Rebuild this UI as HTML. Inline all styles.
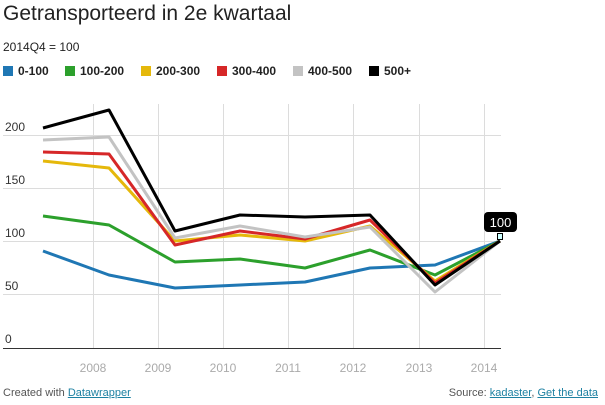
<!DOCTYPE html>
<html><head><meta charset="utf-8"><style>
body{margin:0;width:605px;height:405px;background:#fff;font-family:"Liberation Sans",Arial,sans-serif;overflow:hidden;position:relative}
.t{position:absolute;left:3px;top:2px;font-size:21px;color:#222}
.s{position:absolute;left:3px;top:40px;font-size:12px;color:#222}
.lg{position:absolute;top:64px;font-size:12px;font-weight:bold;color:#222}
.lg span{display:inline-block;width:10px;height:10px;vertical-align:-1px;margin-right:5px}
.f{position:absolute;top:387px;font-size:11px;color:#555}
.f a{color:#1d81a2;text-decoration:underline}
</style></head><body>
<div class="t">Getransporteerd in 2e kwartaal</div>
<div class="s">2014Q4 = 100</div>
<div class="lg" style="left:3px"><span style="background:#1f77b4"></span>0-100</div>
<div class="lg" style="left:65px"><span style="background:#2ca02c"></span>100-200</div>
<div class="lg" style="left:141px"><span style="background:#e5b80b"></span>200-300</div>
<div class="lg" style="left:217px"><span style="background:#d62728"></span>300-400</div>
<div class="lg" style="left:293px"><span style="background:#c3c3c3"></span>400-500</div>
<div class="lg" style="left:369px"><span style="background:#000"></span>500+</div>
<svg width="605" height="405" style="position:absolute;left:0;top:0" font-family="Liberation Sans,Arial,sans-serif">
<g stroke="#dcdcdc" stroke-width="1">
<line x1="3" x2="501" y1="135.5" y2="135.5"/><line x1="3" x2="501" y1="188.5" y2="188.5"/><line x1="3" x2="501" y1="241.5" y2="241.5"/><line x1="3" x2="501" y1="294.5" y2="294.5"/>
<line x1="93.5" x2="93.5" y1="104" y2="348"/><line x1="158.5" x2="158.5" y1="104" y2="348"/><line x1="223.5" x2="223.5" y1="104" y2="348"/><line x1="288.5" x2="288.5" y1="104" y2="348"/><line x1="353.5" x2="353.5" y1="104" y2="348"/><line x1="419.5" x2="419.5" y1="104" y2="348"/><line x1="484.5" x2="484.5" y1="104" y2="348"/>
</g>
<line x1="3" x2="501" y1="348.5" y2="348.5" stroke="#333"/>
<g font-size="12" fill="#333"><text x="5" y="131">200</text><text x="5" y="184">150</text><text x="5" y="237">100</text><text x="5" y="290">50</text><text x="5" y="343">0</text></g>
<g font-size="12" fill="#aaa" text-anchor="middle"><text x="93" y="372">2008</text><text x="158" y="372">2009</text><text x="223" y="372">2010</text><text x="288" y="372">2011</text><text x="353" y="372">2012</text><text x="419" y="372">2013</text><text x="484" y="372">2014</text></g>
<g fill="none" stroke-width="3" stroke-linejoin="round">
<polyline stroke="#1f77b4" points="43,251 109,275 175,288 240,285 305,282 370,268 435,265 500,241"/>
<polyline stroke="#2ca02c" points="43,216 109,225 175,262 240,259 305,268 370,250 435,275 500,241"/>
<polyline stroke="#e5b80b" points="43,161 109,168 175,241 240,235 305,241 370,226 435,281 500,241"/>
<polyline stroke="#d62728" points="43,152 109,154 175,245 240,231 305,239 370,220 435,283 500,241"/>
<polyline stroke="#c3c3c3" points="43,140 109,137 175,238 240,226 305,237 370,227 435,292 500,241"/>
<polyline stroke="#000" points="43,128 109,110 175,231 240,215 305,217 370,215 435,285 500,241"/>
</g>
<rect x="484" y="212" width="33" height="20" rx="4" fill="#000"/>
<text x="500.5" y="227" font-size="13" fill="#fff" text-anchor="middle">100</text>
<rect x="497.5" y="233.5" width="5" height="6" fill="#cff" stroke="#000"/>
</svg>
<div class="f" style="left:3px">Created with <a>Datawrapper</a></div>
<div class="f" style="right:7px">Source: <a>kadaster</a>, <a>Get the data</a></div>
</body></html>
